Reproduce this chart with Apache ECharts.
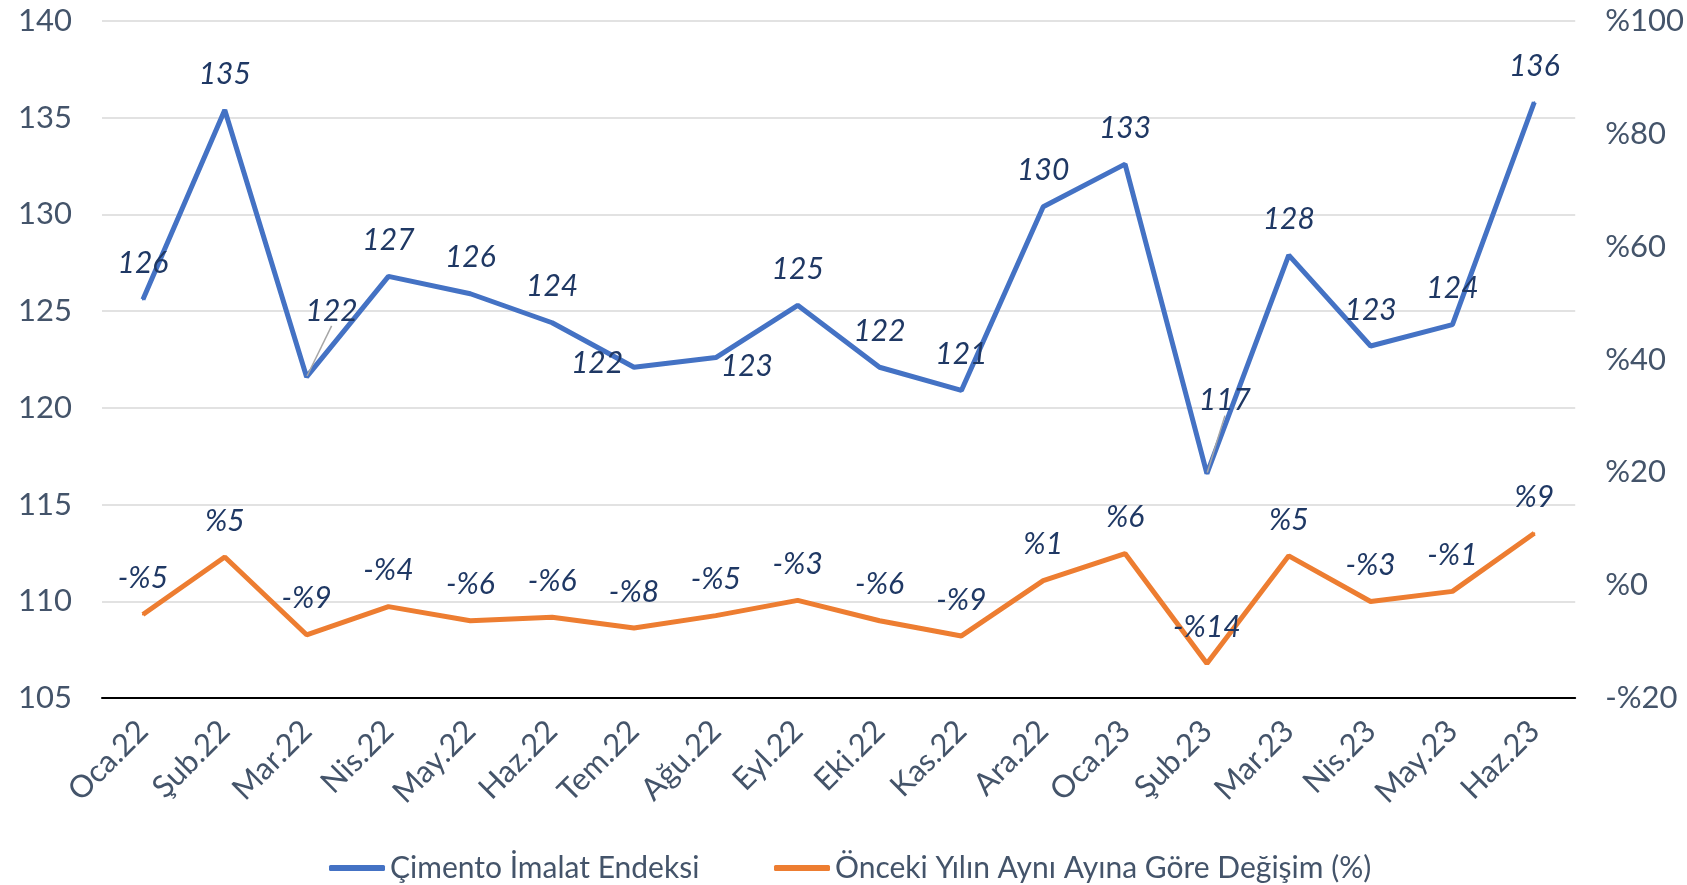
<!DOCTYPE html>
<html lang="tr">
<head>
<meta charset="utf-8">
<title>Çimento İmalat Endeksi</title>
<script src="https://cdn.jsdelivr.net/npm/echarts@6/dist/echarts.min.js"></script>
<style>
  html, body { margin: 0; padding: 0; background: #fff; }
  #main { width: 1687px; height: 885px; }
</style>
</head>
<body>
<div id="main"></div>
<script type="text/javascript">
  // aylar
  var months = ['Oca.22', 'Şub.22', 'Mar.22', 'Nis.22', 'May.22', 'Haz.22', 'Tem.22', 'Ağu.22', 'Eyl.22',
    'Eki.22', 'Kas.22', 'Ara.22', 'Oca.23', 'Şub.23', 'Mar.23', 'Nis.23', 'May.23', 'Haz.23'];
  // çimento imalat endeksi
  var indexValues = [125.6, 135.4, 121.6, 126.8, 125.9, 124.4, 122.1, 122.6, 125.3,
    122.1, 120.9, 130.4, 132.6, 116.6, 127.9, 123.2, 124.3, 135.8];
  // önceki yılın aynı ayına göre değişim (%)
  var changeValues = [-5.2, 5.0, -8.8, -3.8, -6.3, -5.7, -7.6, -5.4, -2.7,
    -6.3, -9.0, 0.8, 5.6, -13.9, 5.2, -2.9, -1.1, 9.2];

  var labelFont = 'Lato, "Noto Sans", sans-serif';
  var axisColor = '#44546A';
  var labelColor = '#1F3864';

  // elle kaydırılmış etiketler (index: [dx, dy]) ve kılavuz çizgili olanlar
  var movedLabels = { 2: [25, -30], 6: [-37, 32], 7: [31, 45], 13: [18, -37] };
  var guided = { 2: true, 13: true };

  var blueData = indexValues.map(function (v, i) {
    var item = { value: v };
    if (guided[i]) {
      item.labelLine = { show: true, lineStyle: { color: '#A6A6A6', width: 1.5 } };
    }
    return item;
  });

  function pct(v) {
    return v < 0 ? '-%' + Math.abs(v) : '%' + v;
  }

  var legendText = { fontFamily: labelFont, fontSize: 30, color: axisColor };

  var chart = echarts.init(document.getElementById('main'));
  var option = {
    animation: false,
    grid: { left: 102, right: 110, top: 21, bottom: 187 },
    legend: [
      {
        left: 324, top: 848, itemWidth: 56, itemHeight: 6, itemGap: 4, icon: 'roundRect',
        textStyle: legendText, data: ['Çimento İmalat Endeksi']
      },
      {
        left: 769, top: 848, itemWidth: 56, itemHeight: 6, itemGap: 4, icon: 'roundRect',
        textStyle: legendText, data: ['Önceki Yılın Aynı Ayına Göre Değişim (%)']
      }
    ],
    xAxis: {
      type: 'category',
      data: months,
      axisLine: { onZero: false, lineStyle: { color: '#000', width: 2 } },
      axisTick: { show: false },
      axisLabel: {
        rotate: 45,
        margin: 28,
        fontFamily: labelFont,
        fontSize: 31,
        color: axisColor
      }
    },
    yAxis: [
      {
        type: 'value',
        min: 105,
        max: 140,
        interval: 5,
        axisLine: { show: false },
        axisTick: { show: false },
        splitLine: { lineStyle: { color: '#D9D9D9', width: 1.5 } },
        axisLabel: { margin: 30, fontFamily: labelFont, fontSize: 31, color: axisColor }
      },
      {
        type: 'value',
        min: -20,
        max: 100,
        interval: 20,
        axisLine: { show: false },
        axisTick: { show: false },
        splitLine: { show: false },
        axisLabel: {
          margin: 30,
          fontFamily: labelFont,
          fontSize: 31,
          color: axisColor,
          formatter: pct
        }
      }
    ],
    series: [
      {
        name: 'Çimento İmalat Endeksi',
        type: 'line',
        yAxisIndex: 0,
        data: blueData,
        symbol: 'circle',
        symbolSize: 2,
        color: '#4472C4',
        itemStyle: { color: '#4472C4' },
        lineStyle: { width: 5, color: '#4472C4' },
        label: {
          show: true,
          position: 'top',
          distance: 20,
          fontFamily: labelFont,
          fontStyle: 'italic',
          fontSize: 30,
          color: labelColor,
          formatter: function (p) { return Math.round(p.value); }
        },
        labelLayout: function (p) {
          var m = movedLabels[p.dataIndex];
          if (m) {
            return { dx: m[0], dy: m[1] };
          }
          return {};
        }
      },
      {
        name: 'Önceki Yılın Aynı Ayına Göre Değişim (%)',
        type: 'line',
        yAxisIndex: 1,
        data: changeValues,
        symbol: 'circle',
        symbolSize: 2,
        color: '#ED7D31',
        itemStyle: { color: '#ED7D31' },
        lineStyle: { width: 5, color: '#ED7D31' },
        label: {
          show: true,
          position: 'top',
          distance: 20,
          fontFamily: labelFont,
          fontStyle: 'italic',
          fontSize: 30,
          color: labelColor,
          formatter: function (p) { return pct(Math.round(p.value)); }
        }
      }
    ]
  };
  chart.setOption(option);
</script>
</body>
</html>
